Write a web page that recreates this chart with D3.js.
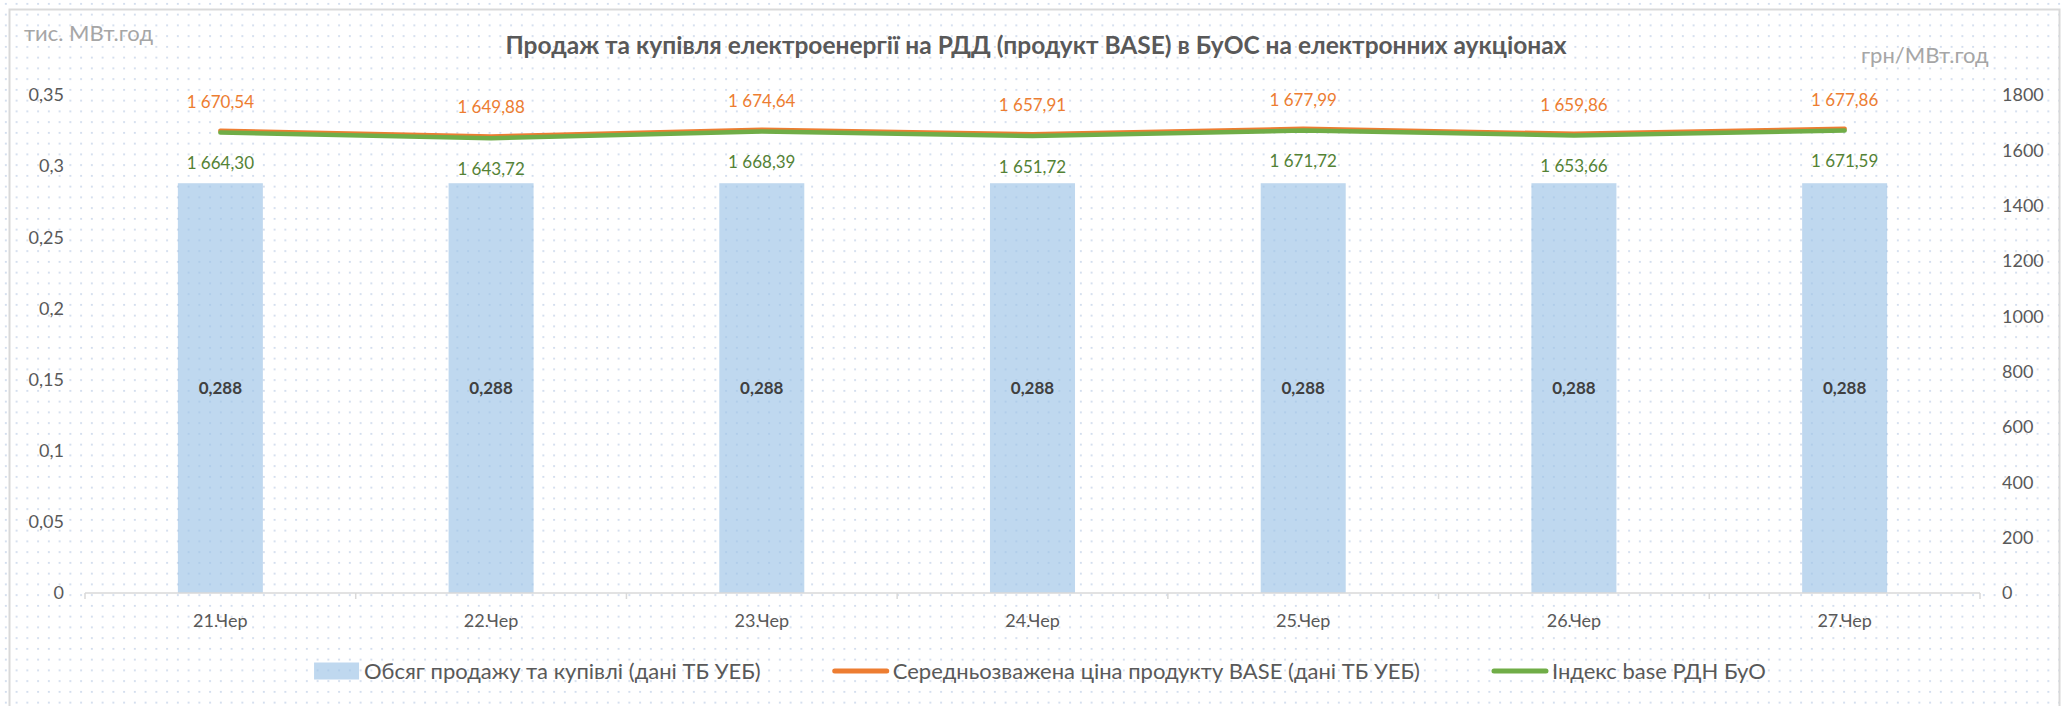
<!DOCTYPE html>
<html>
<head>
<meta charset="utf-8">
<title>Продаж та купівля електроенергії на РДД</title>
<style>
  body { margin: 0; background: #fff; }
  text { font-family: Lato, "Open Sans", sans-serif; }
</style>
<script src="https://cdn.jsdelivr.net/npm/d3@7"></script>
</head>
<body>
<script>
// data
var categories = ["21.Чер", "22.Чер", "23.Чер", "24.Чер", "25.Чер", "26.Чер", "27.Чер"];
var volume = [0.288, 0.288, 0.288, 0.288, 0.288, 0.288, 0.288];
var avgPrice = [1670.54, 1649.88, 1674.64, 1657.91, 1677.99, 1659.86, 1677.86];
var baseIndex = [1664.30, 1643.72, 1668.39, 1651.72, 1671.72, 1653.66, 1671.59];
var leftTicks = [0, 0.05, 0.1, 0.15, 0.2, 0.25, 0.3, 0.35];
var rightTicks = [0, 200, 400, 600, 800, 1000, 1200, 1400, 1600, 1800];
var legendNames = ["Обсяг продажу та купівлі (дані ТБ УЕБ)",
                   "Середньозважена ціна продукту BASE (дані ТБ УЕБ)",
                   "Індекс base РДН БуО"];

var width = 2064, height = 706;
var plot = {left: 85, right: 1980, top: 95, bottom: 593};

var ua = d3.formatLocale({decimal: ",", thousands: " ", grouping: [3], currency: ["", ""]});
var fmtPrice = ua.format(",.2f"),
    fmtVol = ua.format(".3f"),
    fmtLeft = ua.format("~g");

var svg = d3.select("body").append("svg")
    .attr("width", width)
    .attr("height", height);

// dotted background like the excel chart area
var defs = svg.append("defs");
var pat = defs.append("pattern")
    .attr("id", "dots")
    .attr("patternUnits", "userSpaceOnUse")
    .attr("width", 10.75).attr("height", 10.75);
pat.append("rect").attr("x", 5).attr("y", 3).attr("width", 1.7).attr("height", 1.7).attr("fill", "#c9d6ea");

svg.append("rect").attr("width", width).attr("height", height).attr("fill", "#fff");
svg.append("rect").attr("width", width).attr("height", height).attr("fill", "url(#dots)");
svg.append("rect")
    .attr("x", 9.5).attr("y", 9.5)
    .attr("width", 2050).attr("height", 740)
    .attr("fill", "none")
    .attr("stroke", "#d9d9d9")
    .attr("stroke-width", 2);

var x = d3.scaleBand()
    .domain(categories)
    .range([plot.left, plot.right])
    .paddingInner(0.686)
    .paddingOuter(0.343);
var xEdge = d3.scaleBand().domain(categories).range([plot.left, plot.right]);
var yL = d3.scaleLinear().domain([0, 0.35]).range([plot.bottom, plot.top]);
var yR = d3.scaleLinear().domain([0, 1800]).range([plot.bottom, plot.top]);

function cx(i) { return x(categories[i]) + x.bandwidth() / 2; }

// bars
svg.append("g").selectAll("rect")
  .data(volume)
  .enter().append("rect")
    .attr("x", function(d, i) { return x(categories[i]); })
    .attr("y", function(d) { return yL(d); })
    .attr("width", x.bandwidth())
    .attr("height", function(d) { return yL(0) - yL(d); })
    .attr("fill", "#9dc3e6")
    .attr("fill-opacity", 0.65);

svg.append("g").selectAll("text")
  .data(volume)
  .enter().append("text")
    .attr("x", function(d, i) { return cx(i); })
    .attr("y", function(d) { return (yL(d) + yL(0)) / 2; })
    .attr("dy", "0.35em")
    .attr("text-anchor", "middle")
    .attr("font-size", 17)
    .attr("font-weight", "bold")
    .attr("fill", "#404040")
    .text(function(d) { return fmtVol(d); });

// x axis
var xAxis = svg.append("g");
xAxis.append("line")
    .attr("x1", plot.left).attr("x2", plot.right)
    .attr("y1", plot.bottom).attr("y2", plot.bottom)
    .attr("stroke", "#d9d9d9").attr("stroke-width", 1.5);
xAxis.selectAll("line.tick")
  .data(categories.concat([null]))
  .enter().append("line")
    .attr("class", "tick")
    .attr("x1", function(d) { return d ? xEdge(d) : plot.right; })
    .attr("x2", function(d) { return d ? xEdge(d) : plot.right; })
    .attr("y1", plot.bottom).attr("y2", plot.bottom + 6)
    .attr("stroke", "#d9d9d9").attr("stroke-width", 1.5);
xAxis.selectAll("text")
  .data(categories)
  .enter().append("text")
    .attr("x", function(d, i) { return cx(i); })
    .attr("y", 627)
    .attr("text-anchor", "middle")
    .attr("font-size", 18)
    .attr("fill", "#595959")
    .text(function(d) { return d; });

// y axes (labels only)
svg.append("g").selectAll("text")
  .data(leftTicks)
  .enter().append("text")
    .attr("x", 64)
    .attr("y", function(d) { return yL(d); })
    .attr("dy", "0.35em")
    .attr("text-anchor", "end")
    .attr("font-size", 18)
    .attr("fill", "#595959")
    .text(function(d) { return fmtLeft(d); });

svg.append("g").selectAll("text")
  .data(rightTicks)
  .enter().append("text")
    .attr("x", 2002)
    .attr("y", function(d) { return yR(d); })
    .attr("dy", "0.35em")
    .attr("text-anchor", "start")
    .attr("font-size", 18)
    .attr("fill", "#595959")
    .text(function(d) { return d; });

// lines
var line = d3.line()
    .x(function(d, i) { return cx(i); })
    .y(function(d) { return yR(d); });

svg.append("path")
    .datum(avgPrice)
    .attr("d", line)
    .attr("fill", "none")
    .attr("stroke", "#ed7d31")
    .attr("stroke-width", 4.5)
    .attr("stroke-linecap", "round")
    .attr("stroke-linejoin", "round");

svg.append("path")
    .datum(baseIndex)
    .attr("d", line)
    .attr("fill", "none")
    .attr("stroke", "#70ad47")
    .attr("stroke-width", 4.5)
    .attr("stroke-linecap", "round")
    .attr("stroke-linejoin", "round");

svg.append("g").selectAll("text")
  .data(avgPrice)
  .enter().append("text")
    .attr("x", function(d, i) { return cx(i); })
    .attr("y", function(d) { return yR(d) - 29; })
    .attr("dy", "0.35em")
    .attr("text-anchor", "middle")
    .attr("font-size", 17)
    .attr("fill", "#ed7d31")
    .text(function(d) { return fmtPrice(d); });

svg.append("g").selectAll("text")
  .data(baseIndex)
  .enter().append("text")
    .attr("x", function(d, i) { return cx(i); })
    .attr("y", function(d) { return yR(d) + 31; })
    .attr("dy", "0.35em")
    .attr("text-anchor", "middle")
    .attr("font-size", 17)
    .attr("fill", "#548235")
    .text(function(d) { return fmtPrice(d); });

// titles
svg.append("text")
    .attr("x", 1036).attr("y", 54)
    .attr("text-anchor", "middle")
    .attr("font-size", 24.5)
    .attr("font-weight", "bold")
    .attr("fill", "#595959")
    .text("Продаж та купівля електроенергії на РДД (продукт BASE) в БуОС на електронних аукціонах");

svg.append("text")
    .attr("x", 24).attr("y", 41)
    .attr("font-size", 22)
    .attr("fill", "#a6a6a6")
    .text("тис. МВт.год");

svg.append("text")
    .attr("x", 1861).attr("y", 63)
    .attr("font-size", 22)
    .attr("fill", "#a6a6a6")
    .text("грн/МВт.год");

// legend, laid out from measured text widths and centred
var legend = svg.append("g").attr("transform", "translate(0,671)");
var items = [];
var lx = 0;
legendNames.forEach(function(name, i) {
  var g = legend.append("g");
  if (i === 0) {
    g.append("rect").attr("x", 0).attr("y", -8.5).attr("width", 45).attr("height", 17)
      .attr("fill", "#9dc3e6").attr("fill-opacity", 0.65);
  } else {
    g.append("line").attr("x1", 2).attr("x2", 54).attr("y1", 0).attr("y2", 0)
      .attr("stroke", i === 1 ? "#ed7d31" : "#70ad47")
      .attr("stroke-width", 5).attr("stroke-linecap", "round");
  }
  var tx = i === 0 ? 50 : 60;
  var t = g.append("text")
      .attr("x", tx)
      .attr("y", 0)
      .attr("dy", "0.35em")
      .attr("font-size", 22)
      .attr("fill", "#595959")
      .text(name);
  items.push({g: g, x: lx});
  lx += tx + t.node().getComputedTextLength() + 72;
});
var total = lx - 72;
var start = 1040 - total / 2;
items.forEach(function(it) {
  it.g.attr("transform", "translate(" + (start + it.x) + ",0)");
});
</script>
</body>
</html>
